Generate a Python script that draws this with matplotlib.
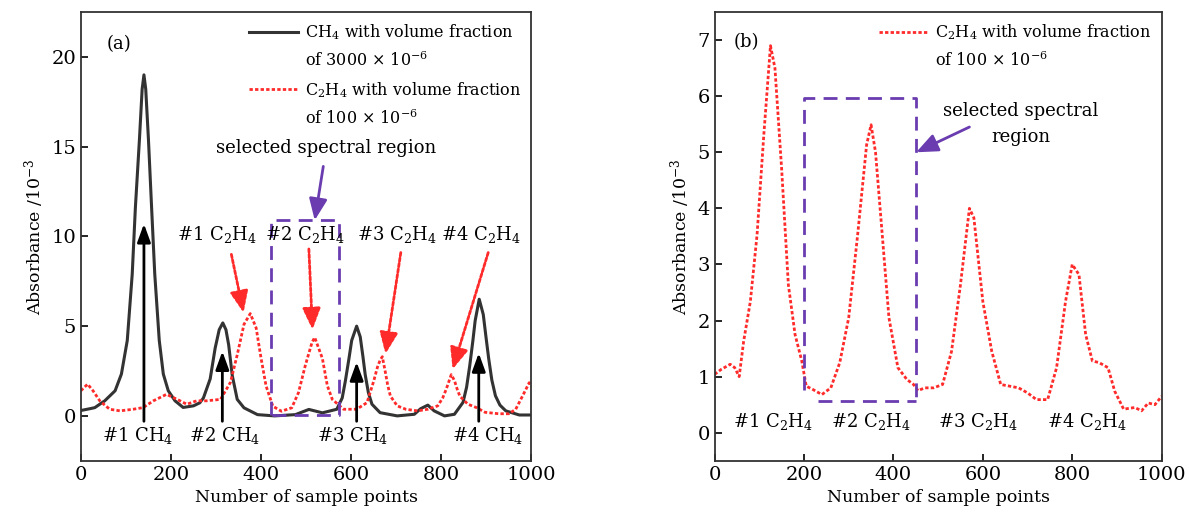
import matplotlib.pyplot as plt
from matplotlib.lines import Line2D

plt.rcParams['font.family'] = ['DejaVu Serif']
plt.rcParams['mathtext.fontset'] = 'custom'
plt.rcParams['mathtext.rm'] = 'DejaVu Serif'
plt.rcParams['mathtext.it'] = 'DejaVu Serif'

# (a) CH4, 3000e-6
x_ch4 = [0, 20, 31, 53, 76, 90, 103, 114, 121, 130, 136, 140, 144, 150, 157, 164,
         174, 183, 194, 209, 227, 250, 264, 272, 287, 298, 307, 315, 322, 328, 336,
         347, 362, 392, 430, 476, 506, 536, 568, 580, 587, 595, 601, 612, 620, 626,
         631, 638, 646, 664, 702, 740, 754, 770, 784, 807, 829, 848, 856, 863, 870,
         875, 884, 893, 899, 905, 912, 920, 930, 943, 973, 1000]
y_ch4 = [0.3, 0.4, 0.46, 0.84, 1.4, 2.33, 4.2, 7.9, 11.6, 15.4, 18.2, 19.0, 18.2,
         15.4, 11.6, 7.9, 4.2, 2.33, 1.4, 0.84, 0.47, 0.56, 0.73, 1.0, 2.06, 3.77,
         4.8, 5.18, 4.8, 3.96, 2.25, 0.92, 0.45, 0.07, 0.0, 0.07, 0.36, 0.17, 0.37,
         1.0, 1.95, 3.2, 4.2, 5.0, 4.4, 3.3, 2.3, 1.3, 0.65, 0.18, 0.0, 0.09, 0.4,
         0.6, 0.28, 0.0, 0.09, 0.75, 1.6, 2.8, 4.2, 5.3, 6.5, 5.65, 4.4, 3.2, 2.0,
         1.12, 0.6, 0.28, 0.05, 0.05]

# (a) C2H4, 100e-6
x_c2h4_a = [0, 15, 27, 42, 64, 87, 116, 138, 161, 190, 213, 235, 257, 279, 310, 332,
            347, 362, 376, 389, 400, 411, 426, 445, 468, 483, 498, 513, 519, 536, 547,
            558, 583, 612, 635, 650, 658, 664, 669, 676, 681, 687, 702, 721, 747, 770,
            792, 803, 811, 822, 829, 835, 841, 859, 878, 897, 927, 950, 965, 980, 995,
            1000]
y_c2h4_a = [1.4, 1.77, 1.4, 0.84, 0.37, 0.28, 0.37, 0.46, 0.84, 1.2, 0.93, 0.65,
            0.84, 0.84, 0.92, 1.87, 3.4, 5.1, 5.7, 4.9, 3.2, 1.67, 0.54, 0.26, 0.45,
            1.3, 2.8, 4.1, 4.37, 3.2, 1.68, 0.92, 0.37, 0.37, 0.74, 1.95, 2.7, 3.1,
            3.3, 2.4, 1.7, 1.1, 0.56, 0.37, 0.28, 0.37, 0.56, 1.0, 1.5, 2.3, 1.97,
            1.5, 1.1, 0.65, 0.46, 0.2, 0.12, 0.12, 0.37, 1.1, 1.85, 1.65]

# (b) C2H4, 100e-6
x_c2h4_b = [0, 15, 35, 45, 55, 65, 80, 95, 110, 125, 135, 150, 165, 180, 195, 205,
            220, 240, 260, 280, 300, 320, 340, 350, 360, 375, 390, 410, 430, 445, 455,
            470, 490, 510, 530, 550, 570, 580, 600, 620, 640, 660, 680, 700, 720, 745,
            765, 785, 800, 815, 830, 845, 860, 880, 895, 915, 940, 955, 970, 985, 1000]
y_c2h4_b = [1.04, 1.13, 1.22, 1.16, 1.0, 1.63, 2.34, 3.53, 5.3, 6.9, 6.5, 4.7, 2.64,
            1.75, 1.28, 0.83, 0.77, 0.68, 0.8, 1.25, 2.05, 3.53, 5.13, 5.49, 5.0, 3.53,
            2.05, 1.16, 0.95, 0.86, 0.75, 0.8, 0.8, 0.86, 1.45, 2.64, 4.0, 3.83, 2.34,
            1.45, 0.86, 0.83, 0.8, 0.71, 0.59, 0.59, 1.16, 2.34, 3.0, 2.82, 1.75, 1.28,
            1.25, 1.16, 0.74, 0.42, 0.45, 0.39, 0.53, 0.5, 0.65]

# peak labels
ch4_peak_x = [140, 314, 612, 883]
ch4_arrow_top = [10.7, 3.6, 3.0, 3.5]
ch4_label_x = [127, 318, 604, 902]
c2h4_arrow_start = [(334, 9.0), (506, 9.3), (710, 9.1), (904, 9.1)]
c2h4_arrow_tip = [(361, 5.75), (514, 4.8), (676, 3.45), (825, 2.6)]
c2h4_label_x_a = [301, 497, 702, 889]
c2h4_label_x_b = [130, 350, 590, 833]

red = '#ff2a2a'
purple = '#6a3cb0'
dotted = (0, (1.2, 0.8))
dashed = (0, (5, 3))
fs_tick = 14
fs_label = 12.5
fs_text = 13
head = '-|>,head_length=1.3,head_width=0.55'

fig = plt.figure(figsize=(11.89, 5.23), dpi=100)
ax1 = fig.add_axes([0.068, 0.119, 0.379, 0.858])
ax2 = fig.add_axes([0.601, 0.119, 0.376, 0.858])

# ---- (a)
ax1.plot(x_ch4, y_ch4, color='#333333', lw=2.2)
ax1.plot(x_c2h4_a, y_c2h4_a, color=red, lw=2, ls=dotted)

for px, top, lx, i in zip(ch4_peak_x, ch4_arrow_top, ch4_label_x, range(4)):
    ax1.annotate('', xy=(px, top), xytext=(px, -0.3),
                 arrowprops=dict(arrowstyle='-|>,head_length=1.1,head_width=0.4',
                                 color='black', lw=2, shrinkA=0, shrinkB=0))
    ax1.text(lx, -1.1, '#%d CH$_4$' % (i + 1), ha='center', va='center',
             fontsize=fs_text)

for (sx, sy), (tx, ty), lx, i in zip(c2h4_arrow_start, c2h4_arrow_tip,
                                     c2h4_label_x_a, range(4)):
    ax1.annotate('', xy=(tx, ty), xytext=(sx, sy),
                 arrowprops=dict(arrowstyle=head, color=red, lw=2, ls=dotted,
                                 shrinkA=0, shrinkB=0))
    ax1.text(lx, 10.1, '#%d C$_2$H$_4$' % (i + 1), ha='center', va='center',
             fontsize=fs_text)

# selected region box (a)
ax1.plot([423, 423, 572, 572, 423], [0.05, 10.9, 10.9, 0.05, 0.05],
         color=purple, lw=2, ls=dashed)
ax1.annotate('', xy=(519, 10.9), xytext=(538, 13.9),
             arrowprops=dict(arrowstyle=head, color=purple, lw=2,
                             shrinkA=0, shrinkB=0))
ax1.text(544, 14.9, 'selected spectral region', ha='center', va='center',
         fontsize=fs_text)
ax1.text(84, 20.7, '(a)', ha='center', va='center', fontsize=fs_text)

ax1.set_xlim(0, 1000)
ax1.set_ylim(-2.5, 22.5)
ax1.set_xticks([0, 200, 400, 600, 800, 1000])
ax1.set_yticks([0, 5, 10, 15, 20])
ax1.set_xlabel('Number of sample points', fontsize=fs_label)
ax1.set_ylabel('Absorbance /10$^{-3}$', fontsize=fs_label)

blank = Line2D([], [], color='none')
h_ch4 = Line2D([], [], color='#333333', lw=2.2)
h_c2h4 = Line2D([], [], color=red, lw=2, ls=dotted)
ax1.legend([h_ch4, blank, h_c2h4, blank],
           ['CH$_4$ with volume fraction', 'of 3000 × 10$^{-6}$',
            'C$_2$H$_4$ with volume fraction', 'of 100 × 10$^{-6}$'],
           loc='upper right', frameon=False, fontsize=11.5, handlelength=3.1,
           handletextpad=0.4, borderaxespad=0.25, labelspacing=0.6)

# ---- (b)
ax2.plot(x_c2h4_b, y_c2h4_b, color=red, lw=2, ls=dotted)

ax2.plot([201, 201, 451, 451], [0.77, 5.96, 5.96, 0.56],
         color=purple, lw=2, ls=dashed)
ax2.plot([231, 451], [0.56, 0.56], color=purple, lw=2, ls=dashed)
ax2.annotate('', xy=(451, 5.0), xytext=(570, 5.45),
             arrowprops=dict(arrowstyle=head, color=purple, lw=2,
                             shrinkA=0, shrinkB=0))
ax2.text(684, 5.5, 'selected spectral\nregion', ha='center', va='center',
         fontsize=fs_text, linespacing=1.6)

for lx, i in zip(c2h4_label_x_b, range(4)):
    ax2.text(lx, 0.2, '#%d C$_2$H$_4$' % (i + 1), ha='center', va='center',
             fontsize=fs_text)
ax2.text(71, 6.97, '(b)', ha='center', va='center', fontsize=fs_text)

ax2.set_xlim(0, 1000)
ax2.set_ylim(-0.5, 7.5)
ax2.set_xticks([0, 200, 400, 600, 800, 1000])
ax2.set_yticks(range(8))
ax2.set_xlabel('Number of sample points', fontsize=fs_label)
ax2.set_ylabel('Absorbance /10$^{-3}$', fontsize=fs_label)
ax2.legend([h_c2h4, blank],
           ['C$_2$H$_4$ with volume fraction', 'of 100 × 10$^{-6}$'],
           loc='upper right', frameon=False, fontsize=11.5, handlelength=3.1,
           handletextpad=0.4, borderaxespad=0.25, labelspacing=0.6)

for ax in (ax1, ax2):
    ax.tick_params(direction='in', labelsize=fs_tick, length=5, width=1.2)
    for s in ax.spines.values():
        s.set_linewidth(1.3)
        s.set_color('#333333')

fig.savefig('out.png', dpi=100)
